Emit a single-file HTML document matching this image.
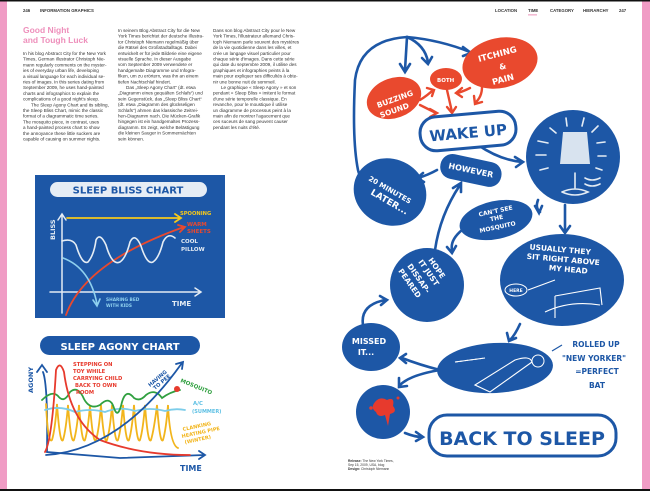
<!DOCTYPE html>
<html><head><meta charset="utf-8"><style>
html,body{margin:0;padding:0;background:#fff}
svg{display:block}
.b{font-family:"Liberation Sans",sans-serif;font-size:4.6px;fill:#333}
.h{font-family:"DejaVu Sans","Liberation Sans",sans-serif;font-weight:bold}
</style></head><body>
<svg width="650" height="491" viewBox="0 0 650 491" xmlns="http://www.w3.org/2000/svg">
<rect width="650" height="491" fill="#fff"/>
<rect x="0" y="0" width="7" height="491" fill="#f09cc5"/>
<rect x="642" y="0" width="8" height="491" fill="#f09cc5"/>
<rect x="0" y="0" width="650" height="1.5" fill="#111"/>
<rect x="0" y="489" width="650" height="2" fill="#111"/>

<!-- headers -->
<g font-family="Liberation Sans,sans-serif" font-size="4.3" font-weight="bold" fill="#333">
<text x="23" y="12">246</text><text x="40" y="12">INFORMATION GRAPHICS</text>
<text x="495" y="12">LOCATION</text><text x="528" y="12">TIME</text><text x="550" y="12">CATEGORY</text><text x="583" y="12">HIERARCHY</text><text x="619" y="12">247</text>
</g>
<rect x="528" y="14.5" width="9" height="0.8" fill="#e77aaa"/>

<text x="23" y="33" font-family="Liberation Sans,sans-serif" font-weight="bold" font-size="8.5" fill="#ee8fbb">Good Night</text>
<text x="23" y="43" font-family="Liberation Sans,sans-serif" font-weight="bold" font-size="8.5" fill="#ee8fbb">and Tough Luck</text>

<g class="b">
<text x="23" y="55">In his blog Abstract City for the New York</text>
<text x="23" y="60.7">Times, German illustrator Christoph Nie-</text>
<text x="23" y="66.4">mann regularly comments on the myster-</text>
<text x="23" y="72.1">ies of everyday urban life, developing</text>
<text x="23" y="77.8">a visual language for each individual se-</text>
<text x="23" y="83.5">ries of images. In this series dating from</text>
<text x="23" y="89.2">September 2009, he uses hand-painted</text>
<text x="23" y="94.9">charts and infographics to explain the</text>
<text x="23" y="100.6">complications of a good night's sleep.</text>
<text x="31" y="106.3">The Sleep Agony Chart and its sibling,</text>
<text x="23" y="112">the Sleep Bliss Chart, mimic the classic</text>
<text x="23" y="117.7">format of a diagrammatic time series.</text>
<text x="23" y="123.4">The mosquito piece, in contrast, uses</text>
<text x="23" y="129.1">a hand-painted process chart to show</text>
<text x="23" y="134.8">the annoyance these little suckers are</text>
<text x="23" y="140.5">capable of causing on summer nights.</text>

<text x="118" y="32">In seinem Blog Abstract City für die New</text>
<text x="118" y="37.7">York Times berichtet der deutsche Illustra-</text>
<text x="118" y="43.4">tor Christoph Niemann regelmäßig über</text>
<text x="118" y="49.1">die Rätsel des Großstadtalltags. Dabei</text>
<text x="118" y="54.8">entwickelt er für jede Bilderie eine eigene</text>
<text x="118" y="60.5">visuelle Sprache. In dieser Ausgabe</text>
<text x="118" y="66.2">vom September 2009 verwendete er</text>
<text x="118" y="71.9">handgemalte Diagramme und Infogra-</text>
<text x="118" y="77.6">fiken, um zu erörtern, was ihn an einem</text>
<text x="118" y="83.3">tiefen Nachtschlaf hindert.</text>
<text x="126" y="89">Das „Sleep Agony Chart“ (dt. etwa</text>
<text x="118" y="94.7">„Diagramm eines gequälten Schlafs“) und</text>
<text x="118" y="100.4">sein Gegenstück, das „Sleep Bliss Chart“</text>
<text x="118" y="106.1">(dt. etwa „Diagramm des glückseligen</text>
<text x="118" y="111.8">Schlafs“) ahmen das klassische Zeitrei-</text>
<text x="118" y="117.5">hen-Diagramm nach. Die Mücken-Grafik</text>
<text x="118" y="123.2">hingegen ist ein handgemaltes Prozess-</text>
<text x="118" y="128.9">diagramm. Es zeigt, welche Belästigung</text>
<text x="118" y="134.6">die kleinen Sauger in Sommernächten</text>
<text x="118" y="140.3">sein können.</text>

<text x="213" y="32">Dans son blog Abstract City pour le New</text>
<text x="213" y="37.7">York Times, l'illustrateur allemand Chris-</text>
<text x="213" y="43.4">toph Niemann parle souvent des mystères</text>
<text x="213" y="49.1">de la vie quotidienne dans les villes, et</text>
<text x="213" y="54.8">crée un langage visuel particulier pour</text>
<text x="213" y="60.5">chaque série d'images. Dans cette série</text>
<text x="213" y="66.2">qui date du septembre 2009, il utilise des</text>
<text x="213" y="71.9">graphiques et infographies peints à la</text>
<text x="213" y="77.6">main pour expliquer ses difficultés à obte-</text>
<text x="213" y="83.3">nir une bonne nuit de sommeil.</text>
<text x="221" y="89">Le graphique « Sleep Agony » et son</text>
<text x="213" y="94.7">pendant « Sleep Bliss » imitent le format</text>
<text x="213" y="100.4">d'une série temporelle classique. En</text>
<text x="213" y="106.1">revanche, pour le moustique il utilise</text>
<text x="213" y="111.8">un diagramme de processus peint à la</text>
<text x="213" y="117.5">main afin de montrer l'agacement que</text>
<text x="213" y="123.2">ces suceurs de sang peuvent causer</text>
<text x="213" y="128.9">pendant les nuits d'été.</text>
</g>

<!-- SLEEP BLISS CHART -->
<rect x="35" y="175" width="190" height="143" fill="#1d57a6"/>
<rect x="50" y="182" width="157" height="15" rx="7.5" fill="#e6edf5"/>
<text x="128" y="193.5" text-anchor="middle" class="h" font-size="10" fill="#1d57a6">SLEEP BLISS CHART</text>
<g fill="none" stroke-linecap="round">
<path d="M62 313 L62 215 M58 220 L62 214 L66 220" stroke="#e4ecf4" stroke-width="1.5"/>
<path d="M50 292 L200 292 M195 288 L201 292 L195 296" stroke="#e4ecf4" stroke-width="1.5"/>
<path d="M67 218 L180 218 M175 214 L181 218 L175 222" stroke="#f4c81c" stroke-width="1.8"/>
<path d="M66 315 Q85 262 184 227 M178 225 L185 227 L180 232" stroke="#e9492e" stroke-width="1.8"/>
<path d="M62 241 Q72 238 76 245 Q82 265 88 262 Q94 255 96 240 Q100 232 106 245 Q112 266 120 262 Q126 258 130 242 Q135 232 141 246 Q147 265 153 262 Q159 258 163 242 Q168 232 175 238" stroke="#e4ecf4" stroke-width="1.6"/>
<path d="M63 258 Q90 268 97 304 M93 300 L97 306 L100 299" stroke="#8fd0ee" stroke-width="1.6"/>
</g>
<text transform="translate(55,240) rotate(-90)" class="h" font-size="6.5" fill="#e4ecf4">BLISS</text>
<text x="180" y="215" class="h" font-size="5.2" fill="#f4c81c">SPOONING</text>
<text x="187" y="226" class="h" font-size="5.5" fill="#e9492e">WARM</text>
<text x="187" y="233" class="h" font-size="5.5" fill="#e9492e">SHEETS</text>
<text x="181" y="243" class="h" font-size="5.5" fill="#e4ecf4">COOL</text>
<text x="181" y="251" class="h" font-size="5.5" fill="#e4ecf4">PILLOW</text>
<text x="106" y="301" class="h" font-size="4.3" fill="#8fd0ee">SHARING BED</text>
<text x="106" y="307" class="h" font-size="4.3" fill="#8fd0ee">WITH KIDS</text>
<text x="172" y="306" class="h" font-size="7" fill="#e4ecf4">TIME</text>

<!-- SLEEP AGONY CHART -->
<rect x="40" y="336" width="160" height="19" rx="9.5" fill="#1d57a6"/>
<text x="120" y="350" text-anchor="middle" class="h" font-size="10" fill="#fff">SLEEP AGONY CHART</text>
<g fill="none" stroke-linecap="round">
<path d="M43 372 Q48 385 47 452 L120 458 L205 455 M37 372 L42 365 L47 372 M199 451 L205 455 L199 459" stroke="#1d57a6" stroke-width="1.8"/>
<path d="M46 404 Q48 445 52 440 Q55 430 57 404 Q60 445 63 440 Q66 430 68 405 Q71 445 74 440 Q77 430 79 405 Q82 445 85 440 Q88 430 90 405 Q93 445 96 440 Q99 430 101 405 Q104 445 107 440 Q110 430 112 405 Q115 445 118 440 Q121 430 123 405 Q126 445 129 440 Q132 430 134 405 Q137 445 140 440 Q143 430 145 405 Q148 445 151 440 Q154 430 157 405 Q160 445 163 440 Q166 430 168 405 Q170 445 178 448" stroke="#f2b51c" stroke-width="1.8"/>
<path d="M45 410 Q60 405 75 412 Q90 408 105 412 Q120 406 135 411 Q150 407 165 411 Q175 408 185 410" stroke="#7dcdea" stroke-width="1.8"/>
<path d="M42 400 Q52 390 58 396 Q64 404 70 392 Q78 385 84 399 Q90 410 100 405 Q110 395 114 408 Q118 420 122 402 Q126 388 134 398 Q140 402 146 395 Q155 388 162 398 Q170 392 180 390" stroke="#30a040" stroke-width="1.8"/>
<path d="M45 452 Q52 440 56 370 Q60 360 64 372 Q70 420 100 440 Q140 455 190 455" stroke="#e73a2d" stroke-width="1.8"/>
<path d="M46 455 Q120 450 182 363 M176 364 L183 362 L182 369" stroke="#1d57a6" stroke-width="1.8"/>
</g>
<circle cx="177" cy="389" r="3" fill="#e73a2d"/>
<text transform="translate(33,393) rotate(-90)" class="h" font-size="6.5" fill="#1d57a6">AGONY</text>
<g class="h" font-size="5.2" fill="#e73a2d">
<text x="73" y="366">STEPPING ON</text><text x="73" y="373">TOY WHILE</text><text x="73" y="380">CARRYING CHILD</text><text x="75" y="387">BACK TO OWN</text><text x="76" y="394">ROOM</text>
</g>
<text transform="translate(150,387) rotate(-40)" class="h" font-size="5.2" fill="#1d57a6">HAVING</text>
<text transform="translate(155,390) rotate(-40)" class="h" font-size="5.2" fill="#1d57a6">TO PEE</text>
<text transform="translate(180,382) rotate(22)" class="h" font-size="5.5" fill="#30a040">MOSQUITO</text>
<text x="193" y="405" class="h" font-size="5.3" fill="#5ec0e4">A/C</text>
<text x="192" y="413" class="h" font-size="5" fill="#5ec0e4">(SUMMER)</text>
<g class="h" font-size="5" fill="#f2b51c">
<text transform="translate(183,431) rotate(-12)">CLANKING</text>
<text transform="translate(182,438) rotate(-12)">HEATING PIPE</text>
<text transform="translate(185,444) rotate(-12)">(WINTER)</text>
</g>
<text x="180" y="471" class="h" font-size="8" fill="#1d57a6">TIME</text>

<!-- RIGHT PAGE flow -->
<g fill="none" stroke="#1d57a6" stroke-width="2.6" stroke-linecap="round">
<path d="M407 37 Q360 40 355 80 Q352 140 358 170 Q360 180 370 178"/>
<path d="M407 37 L405 70 M400 64 L405 72 L410 64"/>
<path d="M407 37 Q425 45 428 62 M422 58 L428 64 L432 57"/>
<path d="M407 37 Q440 40 470 52 M463 47 L471 53 L463 56"/>
<path d="M478 145 Q500 160 522 162 M515 157 L523 162 L516 167"/>
<path d="M437 170 Q428 175 418 178 M423 173 L417 178 L424 182"/>
<path d="M435 250 Q440 215 460 185 M453 188 L461 183 L461 192"/>
<path d="M462 230 Q450 240 452 250 M447 247 L452 253 L456 246"/>
<path d="M538 200 Q535 208 540 212 M535 206 L539 213 L542 206"/>
<path d="M565 205 L565 232 M560 226 L565 233 L570 226"/>
<path d="M520 324 Q515 335 510 340 M507 333 L509 341 L516 338"/>
<path d="M363 325 Q360 305 385 300 M380 296 L387 300 L381 305"/>
<path d="M440 370 Q420 365 402 358 M406 354 L400 358 L406 363"/>
<path d="M440 370 Q410 375 400 385 M399 378 L399 387 L407 386"/>
<path d="M405 433 Q415 437 422 437 M416 432 L423 437 L416 441"/>
</g>
<g fill="none" stroke="#e9492e" stroke-width="2.4" stroke-linecap="round">
<path d="M420 100 Q428 95 433 90 M427 88 L434 90 L432 96"/>
<path d="M420 105 Q430 110 436 113 M430 109 L437 113 L430 117"/>
<path d="M447 90 L452 112 M447 107 L452 113 L456 107"/>
<path d="M470 88 Q462 92 457 93 M462 88 L456 93 L462 97"/>
<path d="M482 87 Q482 97 475 103 M474 96 L475 104 L482 102"/>
</g>
<ellipse cx="394" cy="98" rx="28" ry="20" transform="rotate(-20 394 98)" fill="#e9492e"/>
<ellipse cx="446" cy="79" rx="16" ry="11" fill="#e9492e"/>
<ellipse cx="500" cy="63" rx="38" ry="25" transform="rotate(-12 500 63)" fill="#e9492e"/>
<g class="h" fill="#fff">
<text transform="translate(378,108) rotate(-20)" font-size="7.5">BUZZING</text>
<text transform="translate(381,118) rotate(-20)" font-size="7.5">SOUND</text>
<text x="437" y="82" font-size="5.5">BOTH</text>
<text transform="translate(479,62) rotate(-15)" font-size="8.5">ITCHING</text>
<text transform="translate(500,70) rotate(-15)" font-size="8">&amp;</text>
<text transform="translate(493,85) rotate(-15)" font-size="8.5">PAIN</text>
</g>
<rect x="420" y="114" width="96" height="34" rx="16" transform="rotate(-5 468 131)" fill="#fff" stroke="#1d57a6" stroke-width="3"/>
<text x="468" y="138" text-anchor="middle" transform="rotate(-5 468 131)" class="h" font-size="15" fill="#1d57a6">WAKE UP</text>

<circle cx="573" cy="157" r="47" fill="#1d57a6"/>
<g stroke="#e4ecf4" stroke-width="1.6" stroke-linecap="round" fill="none">
<path d="M538 141 L548 143 M536 155 L546 155 M540 170 L548 168 M550 128 L556 133 M566 118 L567 126 M584 118 L582 126 M598 126 L592 132 M605 142 L597 143 M606 156 L598 156 M602 170 L596 168"/>
<path d="M575 173 L575 188 M562 192 Q575 186 588 192 Q575 198 562 192"/>
<path d="M585 178 Q592 182 600 178 M585 184 Q592 188 600 184"/>
</g>
<path d="M563 132 L587 132 L590 164 L560 164 Z" fill="#d8e3ef"/>
<ellipse cx="390" cy="192" rx="37" ry="33" transform="rotate(25 390 192)" fill="#1d57a6"/>
<g class="h" fill="#fff">
<text transform="translate(368,180) rotate(30)" font-size="7">20 MINUTES</text>
<text transform="translate(370,194) rotate(30)" font-size="9">LATER...</text>
</g>
<rect x="440" y="158" width="62" height="25" rx="12" transform="rotate(12 471 170)" fill="#1d57a6"/>
<text x="471" y="173" text-anchor="middle" transform="rotate(12 471 170)" class="h" font-size="8" fill="#fff">HOWEVER</text>
<ellipse cx="496" cy="220" rx="37" ry="19" transform="rotate(-12 496 220)" fill="#1d57a6"/>
<g class="h" fill="#fff" font-size="6" text-anchor="middle">
<text transform="translate(496,213) rotate(-12)">CAN'T SEE</text>
<text transform="translate(497,220) rotate(-12)">THE</text>
<text transform="translate(498,229) rotate(-12)">MOSQUITO</text>
</g>
<ellipse cx="562" cy="280" rx="62" ry="46" fill="#1d57a6"/>
<g class="h" fill="#fff" font-size="7.5" text-anchor="middle">
<text x="560" y="252" transform="rotate(5 560 252)">USUALLY THEY</text>
<text x="563" y="262" transform="rotate(5 563 262)">SIT RIGHT ABOVE</text>
<text x="568" y="272" transform="rotate(5 568 272)">MY HEAD</text>
</g>
<ellipse cx="516" cy="290" rx="11" ry="6" fill="none" stroke="#fff" stroke-width="1"/>
<text x="516" y="292" text-anchor="middle" class="h" font-size="4.5" fill="#fff">HERE</text>
<path d="M528 290 L555 280 M555 296 L600 288 L602 305 M555 296 L555 318 M545 312 Q570 300 600 305" stroke="#fff" stroke-width="1.1" fill="none"/>
<circle cx="427" cy="285" r="37" fill="#1d57a6"/>
<g class="h" fill="#fff" font-size="7.5">
<text transform="translate(428,260) rotate(55)">HOPE</text>
<text transform="translate(418,262) rotate(55)">IT JUST</text>
<text transform="translate(407,266) rotate(55)">DISSAP-</text>
<text transform="translate(398,271) rotate(55)">PEARED</text>
</g>
<ellipse cx="371" cy="347" rx="29" ry="24" fill="#1d57a6"/>
<text x="369" y="344" text-anchor="middle" class="h" font-size="8" fill="#fff">MISSED</text>
<text x="366" y="355" text-anchor="middle" class="h" font-size="8" fill="#fff">IT...</text>
<ellipse cx="495" cy="368" rx="58" ry="25" transform="rotate(-3 495 368)" fill="#1d57a6"/>
<path d="M455 362 L485 358 M475 385 L515 360 Q530 355 532 362 L490 392 Z" stroke="#fff" stroke-width="1.1" fill="none" stroke-dasharray="0"/>
<path d="M455 362 L485 358" stroke="#fff" stroke-width="1" stroke-dasharray="3 2"/>
<circle cx="538" cy="361" r="6" fill="none" stroke="#fff" stroke-width="1"/>
<g class="h" fill="#1d57a6" font-size="7.5" text-anchor="middle">
<text x="596" y="347">ROLLED UP</text>
<text x="594" y="361">"NEW YORKER"</text>
<text x="597" y="374">=PERFECT</text>
<text x="597" y="388">BAT</text>
</g>
<path d="M552 351 L562 345" stroke="#1d57a6" stroke-width="1.2"/>
<circle cx="383" cy="412" r="27" fill="#1d57a6"/>
<path d="M375 402 Q380 396 387 400 Q395 396 393 406 Q398 412 390 414 L388 426 L385 415 Q378 418 376 412 Q370 408 375 402 Z" fill="#e73a2d"/>
<circle cx="371" cy="408" r="1.8" fill="#e73a2d"/><circle cx="398" cy="398" r="1.5" fill="#e73a2d"/>
<rect x="429" y="415" width="187" height="41" rx="18" fill="#fff" stroke="#1d57a6" stroke-width="3"/>
<text x="522" y="445" text-anchor="middle" class="h" font-size="19" fill="#1d57a6">BACK TO SLEEP</text>
<g font-family="Liberation Sans,sans-serif" font-size="3.3" fill="#333">
<text x="348" y="462"><tspan font-weight="bold">Release:</tspan> The New York Times,</text>
<text x="348" y="466">Sep 15, 2009, USA, blog</text>
<text x="348" y="470"><tspan font-weight="bold">Design:</tspan> Christoph Niemann</text>
</g>
</svg>
</body></html>
